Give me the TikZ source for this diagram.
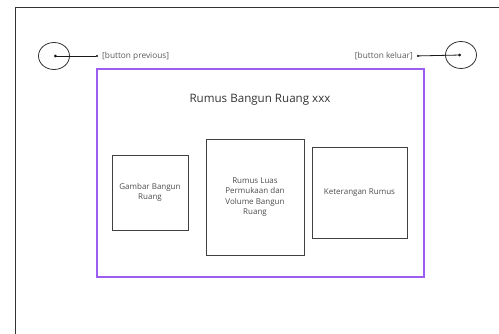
\documentclass[tikz,border=0pt]{standalone}
\usepackage{fontspec}
\setmainfont{Open Sans}
\usetikzlibrary{positioning,arrows.meta,shapes.geometric}
\definecolor{layar}{HTML}{9B5DF2}
\begin{document}
\begin{tikzpicture}[x=1pt,y=-1pt]
	% size of each node
	\def\btnw{31pt}
	\def\btnh{27pt}
	% node style definition
	\tikzstyle{frame} = [draw=black!80, line width=0.9pt];
	\tikzstyle{screen} = [draw=layar, line width=1.3pt, rectangle, minimum width=327pt, minimum height=208pt];
	\tikzstyle{block} = [draw=black!75, line width=0.9pt, rectangle, align=center, text=black!70, font=\fontsize{8}{10.3}\selectfont];
	\tikzstyle{btn} = [draw=black!80, line width=0.8pt, ellipse, minimum width=\btnw, minimum height=\btnh, inner sep=0pt];
	\tikzstyle{plain} = [draw=none, fill=none, inner sep=1pt, text=black!65, font=\fontsize{8.3}{10}\selectfont];
	\tikzstyle{link} = [draw=black!90, line width=0.8pt, shorten >=3pt, {Circle[length=2.8pt]}-{Circle[length=2pt]}];
	\useasboundingbox (0,0) rectangle (499,334);
	% outer page
	\draw[frame] (15,345) -- (15,7) -- (510,7);
	% buttons
	\node[btn] (prev) at (54,56) {};
	\node[plain, anchor=west] (prevlbl) at (101,56) {[button previous]};
	\draw[link] (prev.center) -- (prevlbl.west);
	\node[btn] (keluar) at (461,55) {};
	\node[plain, anchor=east] (keluarlbl) at (414,56) {[button keluar]};
	\draw[link] (keluar.center) -- (keluarlbl.east);
	% screen content
	\node[screen] (layar) at (260.5,173) {};
	\node[text=black!80, font=\fontsize{11.6}{13}\selectfont] (judul) at (260,100) {Rumus Bangun Ruang xxx};
	\node[block, minimum width=76pt, minimum height=75pt] (gambar) at (150,192.5) {Gambar Bangun\\Ruang};
	\node[block, minimum width=98pt, minimum height=116pt] (rumus) at (255,197) {Rumus Luas\\Permukaan dan\\Volume Bangun\\Ruang};
	\node[block, minimum width=95pt, minimum height=91pt] (ket) at (359.5,192.5) {Keterangan Rumus};
\end{tikzpicture}
\end{document}
